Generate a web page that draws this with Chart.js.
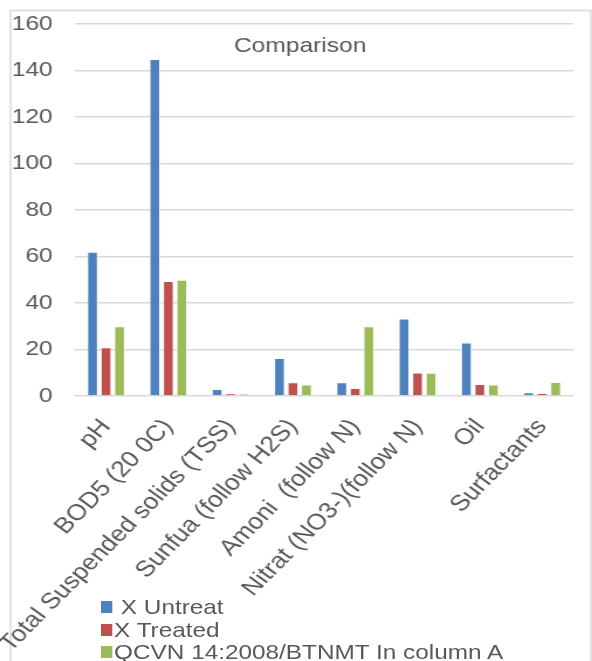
<!DOCTYPE html>
<html>
<head>
<meta charset="utf-8">
<script src="https://cdn.jsdelivr.net/npm/chart.js@4/dist/chart.umd.min.js"></script>
<style>
  html, body { margin: 0; padding: 0; background: #fff; overflow: hidden; }
  /* the figure is laid out 506px wide and widened to 592px */
  #wrap { position: relative; width: 506px; height: 661px; transform: scaleX(1.17); transform-origin: 0 0; }
  #chart { position: absolute; left: 0; top: 0; }
  #legend { position: absolute; left: 86px; top: 596px; font-family: "Liberation Sans", Arial, sans-serif; font-size: 20.8px; color: #595959; }
  #legend .item { height: 22.5px; line-height: 22.5px; white-space: pre; display: flex; align-items: center; }
  #legend .box { width: 10px; height: 12px; margin-right: 1.5px; flex: none; }
</style>
</head>
<body>
<div id="wrap">
  <canvas id="chart" width="506" height="661"></canvas>
  <div id="legend"></div>
</div>
<script>
const categories = [
  'pH',
  'BOD5 (20 0C)',
  'Total Suspended solids (TSS)',
  'Sunfua (follow H2S)',
  'Amoni  (follow N)',
  'Nitrat (NO3-)(follow N)',
  'Oil',
  'Surfactants'
];
const seriesNames = [' X Untreat', 'X Treated', 'QCVN 14:2008/BTNMT In column A'];
const untreated = [62, 145, 3, 16.3, 5.9, 33.3, 23, 1.6];
const treated   = [21, 49.5, 1.1, 5.9, 3.4, 10.1, 5.2, 1.3];
const standard  = [30, 50, 1, 5, 30, 10, 5, 6];
const seriesColors = ['#4F81BD', '#C0504D', '#9BBB59'];
const yTicks = [0, 20, 40, 60, 80, 100, 120, 140, 160];

const FONT = '"Liberation Sans", Arial, sans-serif';
const GREY = '#595959';
const LINE = '#d9d9d9';

// outer frame and the centred heading
const framePlugin = {
  id: 'frame',
  beforeDraw(chart) {
    const ctx = chart.ctx;
    ctx.save();
    ctx.strokeStyle = LINE;
    ctx.lineWidth = 1.5;
    ctx.beginPath();
    ctx.moveTo(9, chart.height);
    ctx.lineTo(9, 10.5);
    ctx.lineTo(505, 10.5);
    ctx.lineTo(505, chart.height);
    ctx.stroke();
    ctx.restore();
  },
  afterDraw(chart) {
    const ctx = chart.ctx;
    ctx.save();
    ctx.fillStyle = GREY;
    ctx.font = '21px ' + FONT;
    ctx.textAlign = 'center';
    ctx.textBaseline = 'middle';
    ctx.fillText('Comparison', 256.5, 46);
    ctx.restore();
  }
};

const values = [untreated, treated, standard];
const chart = new Chart(document.getElementById('chart'), {
  type: 'bar',
  data: {
    labels: categories,
    datasets: values.map((v, i) => ({
      label: seriesNames[i],
      data: v,
      backgroundColor: seriesColors[i],
      borderColor: 'rgba(255,255,255,0.6)',
      borderWidth: 1,
      categoryPercentage: 0.65,
      barPercentage: 0.82
    }))
  },
  options: {
    responsive: false,
    animation: false,
    devicePixelRatio: 1,
    layout: { padding: { left: 0, top: 24, right: 16, bottom: 0 } },
    plugins: { legend: { display: false }, tooltip: { enabled: false }, title: { display: false } },
    scales: {
      x: {
        grid: { display: false, drawTicks: false },
        border: { display: false },
        ticks: {
          autoSkip: false,
          minRotation: 49.5,
          maxRotation: 49.5,
          padding: 18,
          color: GREY,
          font: { family: FONT, size: 22.5 }
        },
        afterFit(s) { s.height = 265; }
      },
      y: {
        min: 0,
        max: 160,
        afterBuildTicks(s) { s.ticks = yTicks.map(v => ({ value: v })); },
        grid: { color: LINE, lineWidth: 1.5, drawTicks: false },
        border: { display: false },
        ticks: {
          padding: 19,
          color: GREY,
          font: { family: FONT, size: 21 }
        },
        afterFit(s) {
          s.width = 64;
          // the label gap is horizontal only; keep it out of the top/bottom reserve
          s.paddingTop = 12;
          s.paddingBottom = 12;
        }
      }
    }
  },
  plugins: [framePlugin]
});

// legend list built from the chart's datasets
const legend = document.getElementById('legend');
chart.data.datasets.forEach(ds => {
  const row = document.createElement('div');
  row.className = 'item';
  const box = document.createElement('span');
  box.className = 'box';
  box.style.background = ds.backgroundColor;
  const txt = document.createElement('span');
  txt.textContent = ds.label;
  row.appendChild(box);
  row.appendChild(txt);
  legend.appendChild(row);
});
</script>
</body>
</html>
